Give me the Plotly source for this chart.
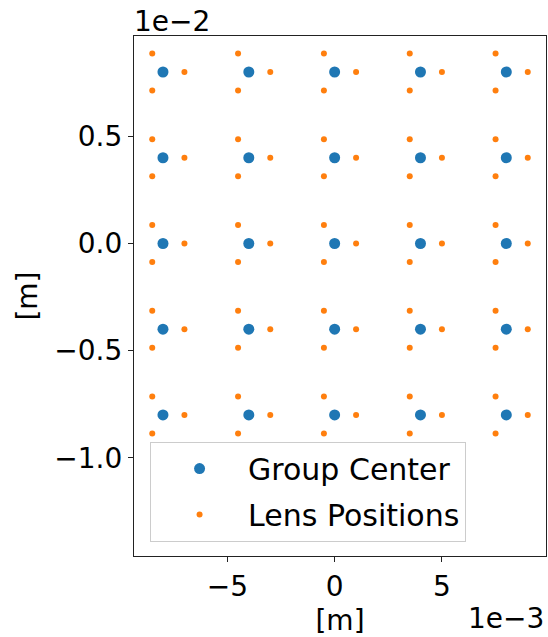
import plotly.graph_objects as go

# Group centre grid, in metres
center_x = [-0.008, -0.004, 0.0, 0.004, 0.008]
center_y = [0.008, 0.004, 0.0, -0.004, -0.008]

# Lens offsets around each group centre, in metres (three lenses per group)
lens_dx = [0.001, -0.0005, -0.0005]
lens_dy = [0.0, 0.000866, -0.000866]

# Tick positions and their labels (scaled by the offset text shown on each axis)
x_tickvals = [-0.005, 0.0, 0.005]
x_ticktext = ["\u22125", "0", "5"]
y_tickvals = [0.005, 0.0, -0.005, -0.010]
y_ticktext = ["0.5", "0.0", "\u22120.5", "\u22121.0"]

group_x, group_y, lens_x, lens_y = [], [], [], []
for cy in center_y:
    for cx in center_x:
        group_x.append(cx)
        group_y.append(cy)
        for dx, dy in zip(lens_dx, lens_dy):
            lens_x.append(cx + dx)
            lens_y.append(cy + dy)

FONT = "DejaVu Sans"
BLUE = "#1f77b4"
ORANGE = "#ff7f0e"

fig = go.Figure()
fig.add_trace(go.Scatter(
    x=group_x, y=group_y, mode="markers", name="Group Center",
    legendgroup="g1",
    marker=dict(color=BLUE, size=11, line=dict(width=0)),
))
fig.add_trace(go.Scatter(
    x=lens_x, y=lens_y, mode="markers", name="Lens Positions",
    legendgroup="g2",
    marker=dict(color=ORANGE, size=6, line=dict(width=0)),
))

axis_common = dict(
    showline=True, mirror=True, linecolor="#222222", linewidth=1.2,
    ticks="outside", ticklen=5, tickwidth=1.2, tickcolor="#222222",
    showgrid=False, zeroline=False,
    tickfont=dict(family=FONT, size=28, color="black"),
)

fig.update_xaxes(
    range=[-0.00935, 0.00985], tickmode="array",
    tickvals=x_tickvals, ticktext=x_ticktext,
    title=dict(text="[m]", font=dict(family=FONT, size=28, color="black"), standoff=8),
    **axis_common,
)
fig.update_yaxes(
    range=[-0.01458, 0.00968], tickmode="array",
    tickvals=y_tickvals, ticktext=y_ticktext,
    title=dict(text="[m]", font=dict(family=FONT, size=28, color="black"), standoff=8),
    **axis_common,
)

# Offset (scale) labels for each axis
fig.add_annotation(
    text="1e\u22122", xref="paper", yref="paper", x=0, y=1,
    xanchor="left", yanchor="bottom", showarrow=False, xshift=-2, yshift=-4,
    font=dict(family=FONT, size=28, color="black"),
)
fig.add_annotation(
    text="1e\u22123", xref="paper", yref="paper", x=1, y=0,
    xanchor="right", yanchor="top", showarrow=False, xshift=0, yshift=-44,
    font=dict(family=FONT, size=28, color="black"),
)

fig.update_layout(
    width=548, height=637,
    margin=dict(l=134, r=2, t=36, b=81),
    paper_bgcolor="white", plot_bgcolor="white",
    font=dict(family=FONT, size=28, color="black"),
    showlegend=True,
    legend=dict(
        x=0.039, y=0.22, xanchor="left", yanchor="top",
        bgcolor="rgba(255,255,255,0.8)", bordercolor="#cccccc", borderwidth=1,
        font=dict(family=FONT, size=30, color="black"),
        itemwidth=87, tracegroupgap=4,
        entrywidth=227, entrywidthmode="pixels",
    ),
)

fig.write_html("out.html")
